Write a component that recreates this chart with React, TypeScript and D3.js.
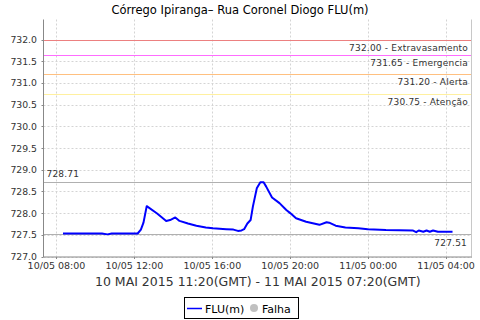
import React from "react";
import * as d3 from "d3";

const W = 480;
const H = 320;

const times: string[] = [
  "2015-05-10 08:20", "2015-05-10 09:30", "2015-05-10 10:20", "2015-05-10 10:37", "2015-05-10 10:50",
  "2015-05-10 12:10", "2015-05-10 12:20", "2015-05-10 12:28", "2015-05-10 12:38", "2015-05-10 13:10",
  "2015-05-10 13:38", "2015-05-10 13:50", "2015-05-10 14:06", "2015-05-10 14:19", "2015-05-10 14:45",
  "2015-05-10 15:11", "2015-05-10 15:40", "2015-05-10 16:02", "2015-05-10 16:43", "2015-05-10 17:05",
  "2015-05-10 17:19", "2015-05-10 17:30", "2015-05-10 17:38", "2015-05-10 17:48", "2015-05-10 17:58",
  "2015-05-10 18:05", "2015-05-10 18:17", "2015-05-10 18:28", "2015-05-10 18:38", "2015-05-10 18:46",
  "2015-05-10 19:04", "2015-05-10 19:27", "2015-05-10 19:48", "2015-05-10 20:00", "2015-05-10 20:18",
  "2015-05-10 20:49", "2015-05-10 21:30", "2015-05-10 21:52", "2015-05-10 22:00", "2015-05-10 22:20",
  "2015-05-10 22:50", "2015-05-10 23:30", "2015-05-10 23:59", "2015-05-11 00:55", "2015-05-11 02:17",
  "2015-05-11 02:28", "2015-05-11 02:36", "2015-05-11 02:50", "2015-05-11 03:00", "2015-05-11 03:10",
  "2015-05-11 03:20", "2015-05-11 03:35", "2015-05-11 04:20",
];
const levels: number[] = [
  727.53, 727.53, 727.53, 727.51, 727.53,
  727.53, 727.62, 727.78, 728.16, 727.99,
  727.82, 727.84, 727.9, 727.82, 727.76,
  727.71, 727.67, 727.65, 727.63, 727.62,
  727.59, 727.6, 727.63, 727.76, 727.84,
  728.15, 728.57, 728.71, 728.71, 728.61,
  728.36, 728.23, 728.07, 728.0, 727.88,
  727.8, 727.73, 727.79, 727.78, 727.71,
  727.67, 727.65, 727.63, 727.61, 727.6,
  727.56, 727.6, 727.57, 727.6, 727.57,
  727.6, 727.57, 727.57,
];

const thresholdValues: number[] = [732.0, 731.65, 731.2, 730.75];
const thresholdNames: string[] = ["Extravasamento", "Emergencia", "Alerta", "Atenção"];
const thresholdColors: string[] = ["#ec8080", "#ff6cff", "#ffc080", "#fff0a0"];

const maxValue = 728.71;
const minValue = 727.51;

const title = "Córrego Ipiranga– Rua Coronel Diogo FLU(m)";
const xTitle = "10 MAI 2015 11:20(GMT) - 11 MAI 2015 07:20(GMT)";
const legendSeries = "FLU(m)";
const legendFail = "Falha";

const parse = d3.timeParse("%Y-%m-%d %H:%M");
const data = times.map((t, i) => ({ t: parse(t) as Date, v: levels[i] }));

const FONT = "DejaVu Sans, sans-serif";

export default function App() {
  const left = 43.5;
  const right = 472;
  const top = 19.5;
  const bottom = 256.5;
  const x = d3
    .scaleTime()
    .domain([parse("2015-05-10 07:20") as Date, parse("2015-05-11 05:20") as Date])
    .range([left, right]);
  const y = d3.scaleLinear().domain([727, 732]).range([bottom, 39.5]);

  const xTicks = x.ticks(d3.timeHour.every(4) as d3.TimeInterval);
  const yTicks = d3.range(727, 732.01, 0.5);
  const fmtX = d3.timeFormat("%d/%m %H:%M");
  const fmtY = d3.format(".1f");

  const line = d3
    .line<{ t: Date; v: number }>()
    .x((d) => x(d.t))
    .y((d) => y(d.v));

  const legendCx = 241;
  const legendW = 114;
  const lx = legendCx - legendW / 2;

  return (
    <svg
      width={W}
      height={H}
      style={{ position: "absolute", left: 0, top: 0, background: "#fff" }}
      fontFamily={FONT}
    >
      <rect x={0} y={0} width={W} height={H} fill="#fff" />
      <text x={240} y={14} textAnchor="middle" fontSize={11.5} fill="#000">
        {title}
      </text>

      {/* grid */}
      {xTicks.map((t, i) => (
        <line
          key={"gx" + i}
          x1={Math.round(x(t)) + 0.5}
          x2={Math.round(x(t)) + 0.5}
          y1={top}
          y2={bottom}
          stroke="#d4d4d4"
          strokeDasharray="2,2"
        />
      ))}
      {yTicks.map((v, i) => (
        <line
          key={"gy" + i}
          x1={left}
          x2={right}
          y1={Math.round(y(v)) + 0.5}
          y2={Math.round(y(v)) + 0.5}
          stroke="#d4d4d4"
          strokeDasharray="2,2"
        />
      ))}

      {/* thresholds */}
      {thresholdValues.map((v, i) => (
        <g key={"th" + i}>
          <line
            x1={left}
            x2={right}
            y1={Math.round(y(v)) + 0.5}
            y2={Math.round(y(v)) + 0.5}
            stroke={thresholdColors[i]}
            strokeWidth={1}
            shapeRendering="crispEdges"
          />
          <text
            x={468}
            y={Math.round(y(v)) + 11}
            textAnchor="end"
            fontSize={9}
            fill="#333"
            letterSpacing={0.2}
          >
            {d3.format(".2f")(v) + " - " + thresholdNames[i]}
          </text>
        </g>
      ))}

      {/* max / min markers */}
      <line x1={left} x2={right} y1={Math.round(y(maxValue)) + 0.5} y2={Math.round(y(maxValue)) + 0.5} stroke="#b0b0b0" />
      <text x={46.5} y={Math.round(y(maxValue)) - 5} fontSize={9} fill="#333" letterSpacing={0.2}>
        {maxValue.toFixed(2)}
      </text>
      <line x1={left} x2={right} y1={Math.round(y(minValue)) + 0.5} y2={Math.round(y(minValue)) + 0.5} stroke="#b0b0b0" />
      <text x={467} y={Math.round(y(minValue)) + 12} textAnchor="end" fontSize={9} fill="#333" letterSpacing={0.2}>
        {minValue.toFixed(2)}
      </text>

      {/* right border */}
      <line x1={right - 0.5} x2={right - 0.5} y1={top} y2={bottom} stroke="#c8c8c8" />

      {/* series */}
      <path d={line(data) || ""} fill="none" stroke="#0000ff" strokeWidth={2} strokeLinejoin="round" />

      {/* axes */}
      <line x1={left} x2={left} y1={top} y2={bottom + 0.5} stroke="#888" />
      <line x1={left} x2={right} y1={bottom + 0.5} y2={bottom + 0.5} stroke="#888" />
      {yTicks.map((v, i) => (
        <g key={"yt" + i}>
          <line x1={left - 2} x2={left} y1={Math.round(y(v)) + 0.5} y2={Math.round(y(v)) + 0.5} stroke="#888" />
          <text x={37} y={y(v) + 3.5} textAnchor="end" fontSize={9.3} fill="#333">
            {fmtY(v)}
          </text>
        </g>
      ))}
      {xTicks.map((t, i) => (
        <g key={"xt" + i}>
          <line x1={Math.round(x(t)) + 0.5} x2={Math.round(x(t)) + 0.5} y1={bottom + 0.5} y2={bottom + 2.5} stroke="#888" />
          <text x={x(t)} y={269} textAnchor="middle" fontSize={9.5} fill="#333">
            {fmtX(t)}
          </text>
        </g>
      ))}
      <text x={(left + right) / 2} y={286} textAnchor="middle" fontSize={12.5} fill="#333">
        {xTitle}
      </text>

      {/* legend */}
      <rect x={lx + 0.5} y={297.5} width={legendW} height={21} fill="#fff" stroke="#000" />
      <line x1={lx + 3} x2={lx + 18} y1={308.5} y2={308.5} stroke="#0000ff" strokeWidth={1.5} />
      <text x={lx + 21} y={312.5} fontSize={11} fill="#000">
        {legendSeries}
      </text>
      <circle cx={lx + 70} cy={308} r={4} fill="#c0c0c0" />
      <text x={lx + 78} y={312.5} fontSize={11} fill="#000">
        {legendFail}
      </text>
    </svg>
  );
}
